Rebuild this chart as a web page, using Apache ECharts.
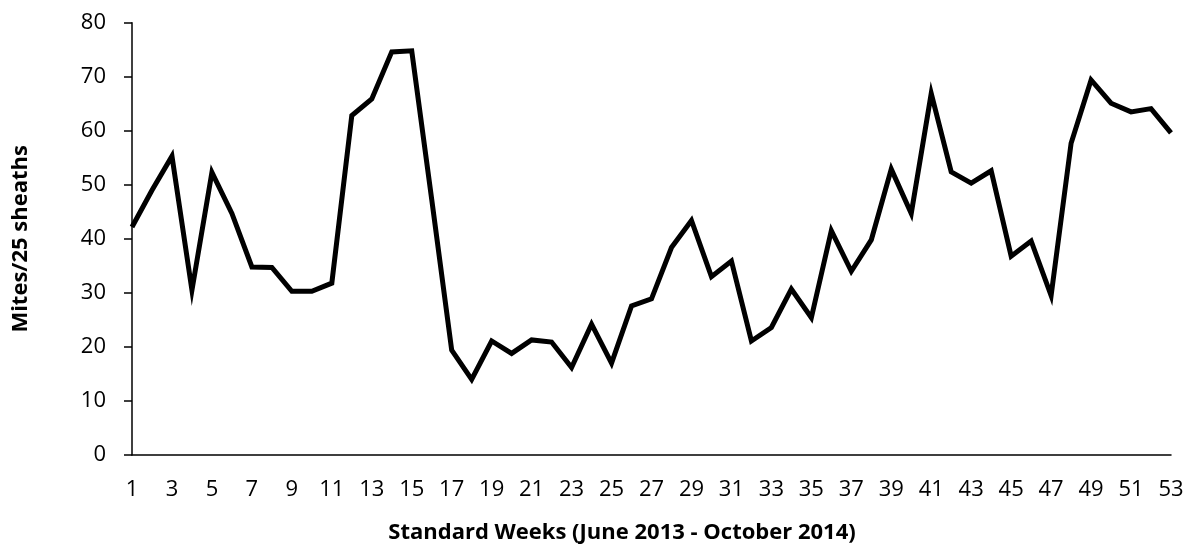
<!DOCTYPE html>
<html>
<head>
<meta charset="utf-8">
<script src="https://cdn.jsdelivr.net/npm/echarts@6/dist/echarts.min.js"></script>
<style>
html,body{margin:0;padding:0;background:#fff;}
#chart{width:1186px;height:545px;}
</style>
</head>
<body>
<div id="chart"></div>
<script>
var weeks = ['1','2','3','4','5','6','7','8','9','10','11','12','13','14','15','16','17','18','19','20','21','22','23','24','25','26','27','28','29','30','31','32','33','34','35','36','37','38','39','40','41','42','43','44','45','46','47','48','49','50','51','52','53'];
var mites = [42.2,49.0,55.3,30.5,52.3,44.7,34.8,34.7,30.3,30.3,31.8,62.8,65.9,74.6,74.8,47.3,19.4,14.0,21.1,18.8,21.3,20.9,16.2,24.2,17.0,27.6,28.9,38.4,43.4,33.0,35.9,21.1,23.6,30.7,25.4,41.5,34.0,39.8,52.9,44.7,66.9,52.4,50.3,52.6,36.8,39.6,29.5,57.7,69.4,65.1,63.5,64.1,59.6];
var yTitle = 'Mites/25 sheaths';
var xTitle = 'Standard Weeks (June 2013 - October 2014)';

var chart = echarts.init(document.getElementById('chart'), null, {renderer:'canvas'});
var font = '"Open Sans", sans-serif';
chart.setOption({
  animation:false,
  backgroundColor:'#fff',
  grid:{left:132, right:15, top:22.7, bottom:90, containLabel:false, outerBoundsMode:'none'},
  xAxis:{
    type:'category',
    data:weeks,
    boundaryGap:false,
    axisLine:{lineStyle:{color:'#000', width:1.5}},
    axisTick:{show:false},
    axisLabel:{interval:1, color:'#000', fontSize:22, fontFamily:font, margin:24},
    splitLine:{show:false}
  },
  yAxis:{
    type:'value',
    min:0, max:80, interval:10,
    name:yTitle,
    nameLocation:'middle',
    nameRotate:90,
    nameGap:100,
    nameTextStyle:{color:'#000', fontSize:22, fontWeight:'bold', fontFamily:font},
    axisLine:{show:true, lineStyle:{color:'#000', width:1.5}},
    axisTick:{show:true, length:8, lineStyle:{color:'#000', width:1.5}},
    axisLabel:{color:'#000', fontSize:22, fontFamily:font, margin:26},
    splitLine:{show:false}
  },
  graphic:[{
    type:'text',
    x:622, y:533,
    style:{text:xTitle, fill:'#000', fontSize:22, fontWeight:'bold', fontFamily:font, textAlign:'center', textVerticalAlign:'middle'}
  }],
  series:[{
    type:'line',
    data:mites,
    showSymbol:false,
    symbol:'none',
    lineStyle:{color:'#000', width:5, join:'miter', cap:'butt'}
  }]
});
</script>
</body>
</html>
